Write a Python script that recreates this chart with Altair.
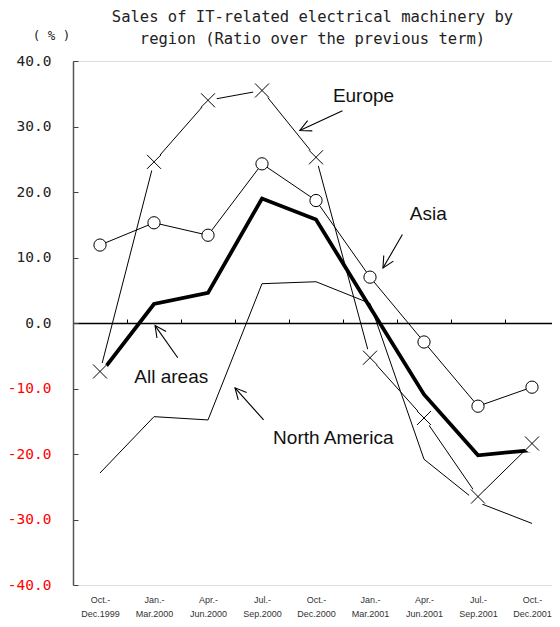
import math
import altair as alt
import pandas as pd

# ---- data ----
period_line1 = ["Oct.-", "Jan.-", "Apr.-", "Jul.-", "Oct.-", "Jan.-", "Apr.-", "Jul.-", "Oct.-"]
period_line2 = ["Dec.1999", "Mar.2000", "Jun.2000", "Sep.2000", "Dec.2000",
                "Mar.2001", "Jun.2001", "Sep.2001", "Dec.2001"]
europe = [-7.4, 24.6, 34.0, 35.5, 25.3, -5.3, -14.5, -26.5, -18.4]
asia = [11.9, 15.3, 13.4, 24.3, 18.7, 7.0, -2.9, -12.7, -9.8]
all_areas = [-7.8, 2.9, 4.6, 19.0, 15.8, 2.4, -10.9, -20.2, -19.4]
north_america = [-22.9, -14.3, -14.8, 6.0, 6.3, 3.0, -20.8, -27.4, -30.6]
y_ticks = [40, 30, 20, 10, 0, -10, -20, -30, -40]
boundaries = [0.5, 1.5, 2.5, 3.5, 4.5, 5.5, 6.5, 7.5]

ann_text = ["Europe", "Asia", "All areas", "North America"]
ann_x = [4.88, 6.08, 1.32, 4.32]
ann_y = [34.7, 16.7, -8.2, -17.5]
arrow_tail_x = [4.49, 5.60, 1.44, 3.03]
arrow_tail_y = [32.4, 13.5, -5.3, -14.8]
arrow_head_x = [3.70, 5.24, 1.02, 2.50]
arrow_head_y = [29.4, 8.4, -0.4, -9.9]

title_lines = ["Sales of IT-related electrical machinery by",
               "region (Ratio over the previous term)"]

# ---- layout ----
W, H = 479, 524          # visible plot area
RANGE_W = 486            # x scale extends slightly past the right edge, as in the original
XDOM = [-0.5, 8.5]
YDOM = [-40, 40]
px_x = RANGE_W / (XDOM[1] - XDOM[0])
px_y = H / (YDOM[1] - YDOM[0])

idx = list(range(len(period_line2)))
df = pd.DataFrame({"i": idx, "europe": europe, "asia": asia,
                   "all": all_areas, "na": north_america})

xs = alt.Scale(domain=XDOM, range=[0, RANGE_W], nice=False, zero=False)
ys = alt.Scale(domain=YDOM, nice=False, zero=False)

label_arr = "[" + ",".join(f"['{a}','{b}']" for a, b in zip(period_line1, period_line2)) + "]"

x_bottom_axis = alt.Axis(values=idx, labelExpr=f"{label_arr}[datum.value]", domain=False,
                         ticks=False, grid=False, labelFont="Liberation Sans", labelFontSize=9,
                         labelColor="#333", labelPadding=10, labelLineHeight=14,
                         labelFlush=False, labelOverlap=False, labelBound=False, title=None)
x_zero_axis = alt.Axis(orient="top", offset=-(YDOM[1] * px_y), values=boundaries, labels=False,
                       ticks=True, tickSize=4, tickColor="#000", tickWidth=1,
                       domain=True, domainColor="#000", domainWidth=1.3, grid=False, title=None)
y_left_axis = alt.Axis(values=y_ticks,
                       labelExpr="(datum.value < 0 ? '-' : '') + format(abs(datum.value), '.1f')",
                       labelFont="DejaVu Sans Mono", labelFontSize=14.5,
                       labelColor={"condition": {"test": "datum.value < 0", "value": "#ff0000"},
                                   "value": "#222"},
                       ticks=False, domain=True, domainColor="#555", domainWidth=1.5,
                       labelPadding=22, grid=False, title="( % )", titleAngle=0,
                       titleX=-22, titleY=-26, titleAlign="center", titleBaseline="middle",
                       titleFont="DejaVu Sans Mono", titleFontSize=12.5, titleFontWeight="normal",
                       titleColor="#222")
y_tick_axis = alt.Axis(orient="right", offset=-W, values=y_ticks, labels=False, domain=False,
                       ticks=True, tickSize=5, tickColor="#444", tickWidth=1, grid=False, title=None)

base = alt.Chart(df)


def line(field, width, xaxis=None, yaxis=None):
    return base.mark_line(color="black", strokeWidth=width, strokeJoin="miter").encode(
        x=alt.X("i:Q", scale=xs, axis=xaxis),
        y=alt.Y(f"{field}:Q", scale=ys, axis=yaxis),
    )


na_line = line("na", 1, x_bottom_axis, y_left_axis)
eu_line = line("europe", 1, x_zero_axis, y_tick_axis)
asia_line = line("asia", 1)
all_line = line("all", 3.8)

halo = base.mark_circle(color="white", opacity=1, size=330).encode(
    x=alt.X("i:Q", scale=xs, axis=None), y=alt.Y("europe:Q", scale=ys, axis=None))
crosses = base.mark_point(shape="M -1 -1 L 1 1 M -1 1 L 1 -1", filled=False, color="black",
                          strokeWidth=1, size=196, opacity=1).encode(
    x=alt.X("i:Q", scale=xs, axis=None), y=alt.Y("europe:Q", scale=ys, axis=None))
circles = base.mark_point(shape="circle", filled=True, fill="white", stroke="black",
                          strokeWidth=1, size=150, opacity=1).encode(
    x=alt.X("i:Q", scale=xs, axis=None), y=alt.Y("asia:Q", scale=ys, axis=None))

ann_df = pd.DataFrame({"x": ann_x, "y": ann_y, "t": ann_text})
ann = alt.Chart(ann_df).mark_text(font="Liberation Sans", fontSize=19, color="#111",
                                  align="center", baseline="middle").encode(
    x=alt.X("x:Q", scale=xs, axis=None), y=alt.Y("y:Q", scale=ys, axis=None), text="t:N")

arrow_rows = []
for k in range(len(ann_text)):
    arrow_rows.append({"a": k, "o": 0, "x": arrow_tail_x[k], "y": arrow_tail_y[k]})
    arrow_rows.append({"a": k, "o": 1, "x": arrow_head_x[k], "y": arrow_head_y[k]})
arrow_df = pd.DataFrame(arrow_rows)
arrow_lines = alt.Chart(arrow_df).mark_line(color="black", strokeWidth=1.1).encode(
    x=alt.X("x:Q", scale=xs, axis=None), y=alt.Y("y:Q", scale=ys, axis=None),
    detail="a:N", order="o:Q")

heads = []
for k in range(len(ann_text)):
    dx = (arrow_head_x[k] - arrow_tail_x[k]) * px_x
    dy = -(arrow_head_y[k] - arrow_tail_y[k]) * px_y
    ang = math.degrees(math.atan2(dy, dx)) % 360
    heads.append({"x": arrow_head_x[k], "y": arrow_head_y[k], "ang": ang})
head_df = pd.DataFrame(heads)
arrow_heads = alt.Chart(head_df).mark_point(shape="M -1 -0.5 L 0 0 L -1 0.5", filled=False,
                                            color="black", strokeWidth=1.1, size=500,
                                            opacity=1).encode(
    x=alt.X("x:Q", scale=xs, axis=None), y=alt.Y("y:Q", scale=ys, axis=None),
    angle=alt.Angle("ang:Q", scale=None))

chart = alt.layer(na_line, eu_line, asia_line, all_line, halo, crosses, circles,
                  arrow_lines, arrow_heads, ann).resolve_axis(
    x="independent", y="independent").properties(
    width=W, height=H,
    autosize=alt.AutoSizeParams(type="none"),
    padding={"left": 65, "top": 53, "right": 0, "bottom": 34},
    title=alt.TitleParams(text=title_lines, font="DejaVu Sans Mono", fontSize=15.5,
                          fontWeight="normal", color="#222", anchor="middle",
                          frame="group", lineHeight=21.5, baseline="alphabetic",
                          offset=-17, dy=13),
).configure_view(strokeWidth=0).configure(background="white")

chart.save("out.html", embed_options={"renderer": "svg", "actions": False})
